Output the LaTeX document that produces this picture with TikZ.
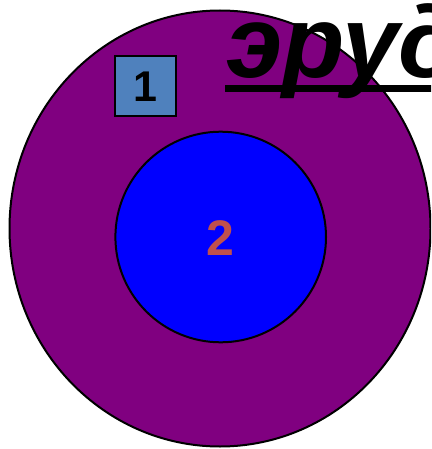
\documentclass[tikz,border=0pt]{standalone}
\usepackage{fontspec}
\setmainfont{Liberation Sans}
\definecolor{outerpurple}{HTML}{800080}
\definecolor{innerblue}{HTML}{0000FF}
\definecolor{boxblue}{HTML}{4F81BD}
\definecolor{numred}{HTML}{C0504D}
\begin{document}
\begin{tikzpicture}[x=1pt,y=-1pt,
  ring/.style={draw=black, line width=2pt},
  numbox/.style={draw=black, line width=2pt, fill=boxblue, minimum width=61pt, minimum height=60pt, inner sep=0pt, font=\fontsize{43}{43}\selectfont\bfseries},
  bignum/.style={inner sep=0pt, text=numred, font=\fontsize{50}{50}\selectfont\bfseries},
  titletext/.style={inner sep=0pt, anchor=base west, font=\fontsize{102}{102}\selectfont\bfseries\itshape}]
\useasboundingbox (0,0) rectangle (431,449);
\clip (0,0) rectangle (431,449);
\fill[white] (0,0) rectangle (431,449);
\filldraw[ring, fill=outerpurple] (220,228.5) ellipse [x radius=210.5, y radius=218];
\filldraw[ring, fill=innerblue] (220.7,237) circle [radius=105.3];
\node[numbox] (one) at (145,86.5) {1};
\node[bignum] (two) at (220.5,238) {2};
\node[titletext] (title) at (226,78) {эруд};
\fill[black] (225,85) rectangle (440,92);
\end{tikzpicture}
\end{document}
